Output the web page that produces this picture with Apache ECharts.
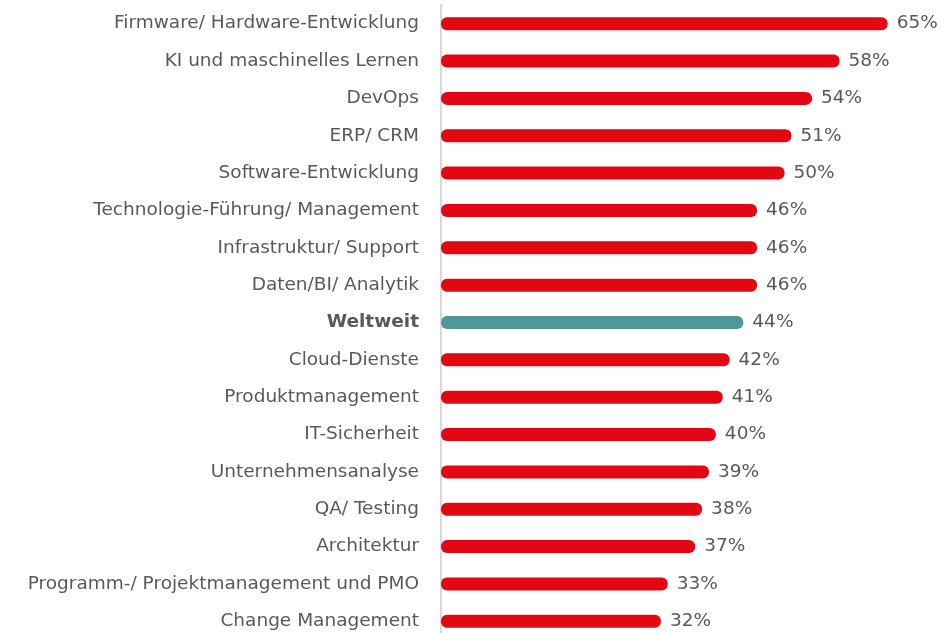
<!DOCTYPE html>
<html>
<head>
<meta charset="utf-8">
<script src="https://cdn.jsdelivr.net/npm/echarts@6/dist/echarts.min.js"></script>
<style>
  html, body { margin: 0; padding: 0; background: #ffffff; overflow: hidden; }
  #chart { width: 949px; height: 640px; }
</style>
</head>
<body>
<div id="chart"></div>
<script>
// Bereiche, von oben nach unten
const categories = [
  'Firmware/ Hardware-Entwicklung',
  'KI und maschinelles Lernen',
  'DevOps',
  'ERP/ CRM',
  'Software-Entwicklung',
  'Technologie-Führung/ Management',
  'Infrastruktur/ Support',
  'Daten/BI/ Analytik',
  'Weltweit',
  'Cloud-Dienste',
  'Produktmanagement',
  'IT-Sicherheit',
  'Unternehmensanalyse',
  'QA/ Testing',
  'Architektur',
  'Programm-/ Projektmanagement und PMO',
  'Change Management'
];
const values = [65, 58, 54, 51, 50, 46, 46, 46, 44, 42, 41, 40, 39, 38, 37, 33, 32];
const highlight = 'Weltweit';

const RED = '#e30613';
const TEAL = '#4f979a';
const TEXT = '#595959';
const FONT = 'DejaVu Sans';
const SIZE = 18.5;

const chart = echarts.init(document.getElementById('chart'), null, { renderer: 'canvas' });

// Kategorien von unten nach oben für die y-Achse
const cats = categories.slice().reverse();
const vals = values.slice().reverse();

chart.setOption({
  animation: false,
  backgroundColor: '#ffffff',
  grid: { left: 441, right: 27, top: 5, bottom: 0, containLabel: false },
  xAxis: {
    type: 'value', min: 0, max: 70,
    show: false
  },
  yAxis: {
    type: 'category',
    data: cats,
    axisLine: { show: true, lineStyle: { color: '#d9d9d9', width: 2 } },
    axisTick: { show: false },
    axisLabel: {
      margin: 22,
      fontFamily: FONT,
      fontSize: SIZE,
      color: TEXT,
      formatter: v => v === highlight ? '{b|' + v + '}' : v,
      rich: { b: { fontFamily: FONT, fontSize: SIZE, fontWeight: 'bold', color: TEXT } }
    }
  },
  series: [{
    type: 'bar',
    data: vals.map((v, i) => ({
      value: v,
      itemStyle: { color: cats[i] === highlight ? TEAL : RED }
    })),
    barWidth: 13,
    itemStyle: { borderRadius: 6 },
    label: {
      show: true,
      position: 'right',
      distance: 9,
      formatter: p => p.value + '%',
      fontFamily: FONT,
      fontSize: SIZE,
      color: TEXT
    }
  }]
});
</script>
</body>
</html>
